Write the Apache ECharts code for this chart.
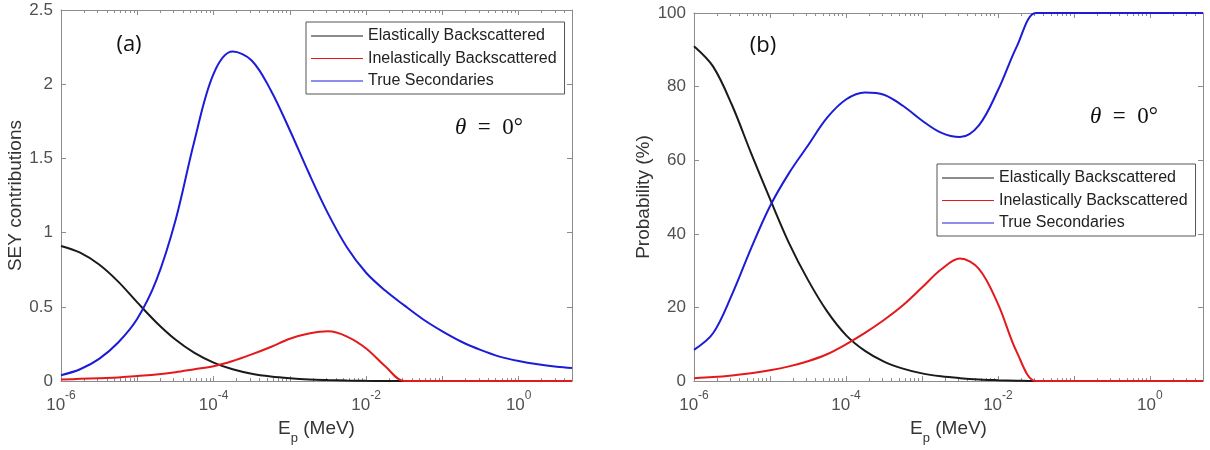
<!DOCTYPE html>
<html>
<head>
<meta charset="utf-8">
<script src="https://cdn.jsdelivr.net/npm/echarts@6/dist/echarts.min.js"></script>
<style>
  html, body { margin: 0; background: #fff; }
  #chart { width: 1210px; height: 450px; }
</style>
</head>
<body>
<div id="chart"></div>
<script>
// primary energy E_p (MeV), quarter-decade steps from 1e-6 up to 5
const energies = [1e-6, 1.78e-6, 3.16e-6, 5.62e-6, 1e-5, 1.78e-5, 3.16e-5, 5.62e-5,
  1e-4, 1.78e-4, 3.16e-4, 5.62e-4, 1e-3, 1.78e-3, 3.16e-3, 5.62e-3,
  1e-2, 1.78e-2, 3.16e-2, 5.62e-2, 0.1, 0.178, 0.316, 0.562, 1, 1.78, 3.16, 5]

// (a) SEY contributions
const seyElastic = [0.91, 0.865, 0.785, 0.67, 0.53, 0.395, 0.28, 0.19, 0.125, 0.08, 0.05, 0.031, 0.019, 0.011,
  0.007, 0.004, 0.002, 0.001, 0.0005, 0, 0, 0, 0, 0, 0, 0, 0, 0]
const seyInelastic = [0.01, 0.015, 0.02, 0.025, 0.035, 0.045, 0.06, 0.08, 0.10, 0.135, 0.18, 0.23, 0.285, 0.32,
  0.335, 0.30, 0.22, 0.10, 0, 0, 0, 0, 0, 0, 0, 0, 0, 0]
const seyTrue = [0.04, 0.08, 0.15, 0.26, 0.42, 0.68, 1.08, 1.62, 2.07, 2.22, 2.16, 1.96, 1.69, 1.40,
  1.13, 0.90, 0.73, 0.61, 0.51, 0.415, 0.335, 0.265, 0.21, 0.165, 0.135, 0.113, 0.097, 0.088]

// (b) probability (%)
const probElastic = [91, 85.5, 75, 62, 49.5, 37.5, 27.5, 19, 12.5, 8.2, 5.3, 3.4, 2.1, 1.3,
  0.8, 0.45, 0.25, 0.1, 0, 0, 0, 0, 0, 0, 0, 0, 0, 0]
const probInelastic = [0.8, 1.1, 1.55, 2.15, 2.95, 4.0, 5.4, 7.3, 10, 13.1, 16.6, 20.6, 25.4, 30.3,
  33.3, 30.5, 21, 7.8, 0, 0, 0, 0, 0, 0, 0, 0, 0, 0]
const probTrue = [8.5, 13, 23.5, 36, 47.5, 56.5, 64, 71.5, 76.5, 78.4, 77.8, 74.8, 70.8, 67.5,
  66.3, 69.5, 79, 91, 100, 100, 100, 100, 100, 100, 100, 100, 100, 100]

const seriesNames = ['Elastically Backscattered', 'Inelastically Backscattered', 'True Secondaries']
const seriesColors = ['#1a1a1a', '#e3191c', '#1c1cd8']
const labelEnergies = [1e-6, 1e-4, 1e-2, 1]
const decadeTicks = [1e-6, 1e-5, 1e-4, 1e-3, 1e-2, 1e-1, 1]
const minorTicks = []
for (let n = -6; n <= 0; n++) for (let k = 2; k <= 9; k++) if (k * Math.pow(10, n) <= 5) minorTicks.push(+(k * Math.pow(10, n)).toPrecision(3))

const axisColor = '#8c8c8c'
const labelColor = '#505050'
const font = 'Liberation Sans, Arial, sans-serif'

const xAxesFor = (gi) => {
  const base = { gridIndex: gi, type: 'log', min: 1e-6, max: 5, splitLine: { show: false } }
  const major = (position, withLabels) => ({ ...base, position,
    axisLine: { show: true, lineStyle: { color: axisColor, width: 1 } },
    axisTick: { inside: true, length: 5, customValues: decadeTicks, lineStyle: { color: axisColor } },
    axisLabel: withLabels ? { customValues: labelEnergies, margin: 9, color: labelColor, fontFamily: font,
      formatter: v => '{b|10}{s|' + Math.round(Math.log10(v)) + '}',
      rich: { b: { fontSize: 17, lineHeight: 24, verticalAlign: 'bottom', color: labelColor, fontFamily: font },
        s: { fontSize: 12, lineHeight: 12, verticalAlign: 'top', color: labelColor, fontFamily: font } } } : { show: false },
    ...(withLabels ? { name: '{b|E}{s|p}{b| (MeV)}', nameLocation: 'middle', nameGap: 30,
      nameTextStyle: { rich: { b: { fontSize: 19, lineHeight: 26, verticalAlign: 'top', color: '#333', fontFamily: font },
        s: { fontSize: 13, lineHeight: 13, verticalAlign: 'bottom', color: '#333', fontFamily: font } } } } : {}) })
  const minor = (position) => ({ ...base, position, axisLine: { show: false },
    axisTick: { inside: true, length: 3, customValues: minorTicks, lineStyle: { color: axisColor } },
    axisLabel: { show: false } })
  return [major('bottom', true), minor('bottom'), major('top', false), minor('top')]
}

const yAxesFor = (gi, max, interval, name, nameGap) => {
  const base = { gridIndex: gi, type: 'value', min: 0, max, interval, splitLine: { show: false },
    axisLine: { show: true, lineStyle: { color: axisColor } },
    axisTick: { show: true, inside: true, length: 5, lineStyle: { color: axisColor } } }
  return [
    { ...base, position: 'left', name, nameLocation: 'middle', nameGap,
      nameTextStyle: { fontSize: 19, color: '#333', fontFamily: font },
      axisLabel: { fontSize: 17, color: labelColor, fontFamily: font, margin: 8 } },
    { ...base, position: 'right', axisLabel: { show: false } }
  ]
}

const lineSeries = (name, i, values, xi, yi) => ({
  name, type: 'line', xAxisIndex: xi, yAxisIndex: yi, symbol: 'none', smooth: 0.35, clip: false,
  color: seriesColors[i], lineStyle: { width: 2, color: seriesColors[i] },
  data: energies.map((e, k) => [e, values[k]])
})

const legendFor = (left, top) => ({
  data: seriesNames, orient: 'vertical', left, top, icon: 'rect', itemWidth: 52, itemHeight: 1,
  itemGap: 4.5, padding: [5, 8, 4, 5], backgroundColor: '#fff', borderColor: '#555', borderWidth: 1,
  textStyle: { fontSize: 16, color: '#222', fontFamily: font, lineHeight: 18 }, selectedMode: false
})

const thetaText = (x, y) => ({ type: 'text', x, y, style: {
  text: '{t|θ}  =  0°', fontSize: 23, fontFamily: 'Liberation Serif, DejaVu Serif, serif', fill: '#111',
  align: 'center', verticalAlign: 'middle',
  rich: { t: { fontStyle: 'italic', fontSize: 23, fontFamily: 'Liberation Serif, DejaVu Serif, serif', fill: '#111' } } } })
const panelTag = (text, x, y) => ({ type: 'text', x, y, style: {
  text, fontSize: 22, fontFamily: 'Open Sans, Lato, sans-serif', fill: '#111', align: 'center', verticalAlign: 'middle' } })

const chart = echarts.init(document.getElementById('chart'), null, { renderer: 'canvas' })
chart.setOption({
  animation: false,
  backgroundColor: '#fff',
  grid: [
    { left: 61, right: 638, top: 10, bottom: 67 },
    { left: 694, right: 7, top: 13, bottom: 67 }
  ],
  xAxis: [...xAxesFor(0), ...xAxesFor(1)],
  yAxis: [...yAxesFor(0, 2.5, 0.5, 'SEY contributions', 29), ...yAxesFor(1, 100, 20, 'Probability (%)', 38)],
  legend: [legendFor(306, 22), legendFor(937, 164)],
  series: [
    lineSeries(seriesNames[0], 0, seyElastic, 0, 0),
    lineSeries(seriesNames[1], 1, seyInelastic, 0, 0),
    lineSeries(seriesNames[2], 2, seyTrue, 0, 0),
    lineSeries(seriesNames[0], 0, probElastic, 4, 2),
    lineSeries(seriesNames[1], 1, probInelastic, 4, 2),
    lineSeries(seriesNames[2], 2, probTrue, 4, 2)
  ],
  graphic: [
    panelTag('(a)', 129, 45), panelTag('(b)', 763, 46),
    thetaText(489, 128), thetaText(1124, 117)
  ]
})
</script>
</body>
</html>
